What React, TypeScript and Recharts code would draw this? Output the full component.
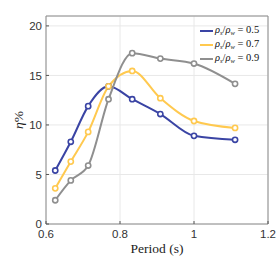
import { LineChart, Line, XAxis, YAxis, CartesianGrid, ReferenceArea } from "recharts";

const periods = [0.625, 0.667, 0.714, 0.769, 0.833, 0.909, 1.0, 1.111];
const eta05 = [5.4, 8.3, 11.9, 13.9, 12.6, 11.1, 8.9, 8.5];
const eta07 = [3.6, 6.3, 9.3, 13.9, 15.45, 12.7, 10.4, 9.7];
const eta09 = [2.4, 4.4, 5.9, 12.6, 17.25, 16.7, 16.2, 14.15];
const ratios = ["0.5", "0.7", "0.9"];
const colors = ["#3a44a4", "#ffc94f", "#8f8f8f"];

const data = periods.map((p, i) => ({ p, a: eta05[i], b: eta07[i], c: eta09[i] }));
const keys = ["a", "b", "c"];

const tickStyle = { fontFamily: "Liberation Sans, Arial, sans-serif", fontSize: 11.5, fill: "#333" };
const serif = "Liberation Serif, Times New Roman, serif";

function LegendBox() {
  return (
    <div
      style={{
        position: "absolute",
        left: 200,
        top: 24,
        fontFamily: serif,
        fontSize: 10.5,
        color: "#111",
        lineHeight: "11px",
        whiteSpace: "nowrap",
      }}
    >
      {ratios.map((r, i) => (
        <div key={r} style={{ display: "flex", alignItems: "center" }}>
          <span style={{ display: "inline-block", width: 13, height: 2, background: colors[i], marginRight: 2 }} />
          <span>
            <i>ρ</i>
            <sub style={{ fontSize: 6.5, verticalAlign: "-2px" }}><i>s</i></sub>/<i>ρ</i>
            <sub style={{ fontSize: 6.5, verticalAlign: "-2px" }}><i>w</i></sub> = {r}
          </span>
        </div>
      ))}
    </div>
  );
}

export default function App() {
  return (
    <div style={{ position: "fixed", left: 0, top: 0, width: 278, height: 278, background: "#fff" }}>
      <LineChart width={278} height={278} data={data} margin={{ top: 16, right: 10, left: 0, bottom: 0 }}>
        <CartesianGrid stroke="#e8e8e8" strokeWidth={1} />
        <ReferenceArea x1={0.6} x2={1.2} y1={0} y2={21} fill="none" stroke="#8c8c8c" strokeWidth={1} />
        <XAxis
          dataKey="p"
          type="number"
          domain={[0.6, 1.2]}
          ticks={[0.6, 0.8, 1, 1.2]}
          height={54}
          axisLine={false}
          tickSize={-3}
          tickMargin={9}
          tickLine={{ stroke: "#555" }}
          tick={tickStyle}
          label={{ value: "Period (s)", position: "insideBottom", offset: 25, style: { fontFamily: serif, fontSize: 13.5, fill: "#222" } }}
        />
        <YAxis
          type="number"
          domain={[0, 21]}
          ticks={[0, 5, 10, 15, 20]}
          width={46}
          axisLine={false}
          tickSize={-3}
          tickMargin={7}
          tickLine={{ stroke: "#555" }}
          tick={tickStyle}
          label={{
            content: () => (
              <text x={23} y={120} transform="rotate(-90 23 120)" textAnchor="middle" style={{ fontFamily: serif, fontSize: 13.5, fill: "#222" }}>
                <tspan fontStyle="italic">η</tspan>%
              </text>
            ),
          }}
        />
        {keys.map((k, i) => (
          <Line
            key={k}
            dataKey={k}
            type="monotone"
            stroke={colors[i]}
            strokeWidth={2}
            dot={{ r: 2.6, fill: "#fff", stroke: colors[i], strokeWidth: 1.6 }}
            isAnimationActive={false}
          />
        ))}
      </LineChart>
      <LegendBox />
    </div>
  );
}
